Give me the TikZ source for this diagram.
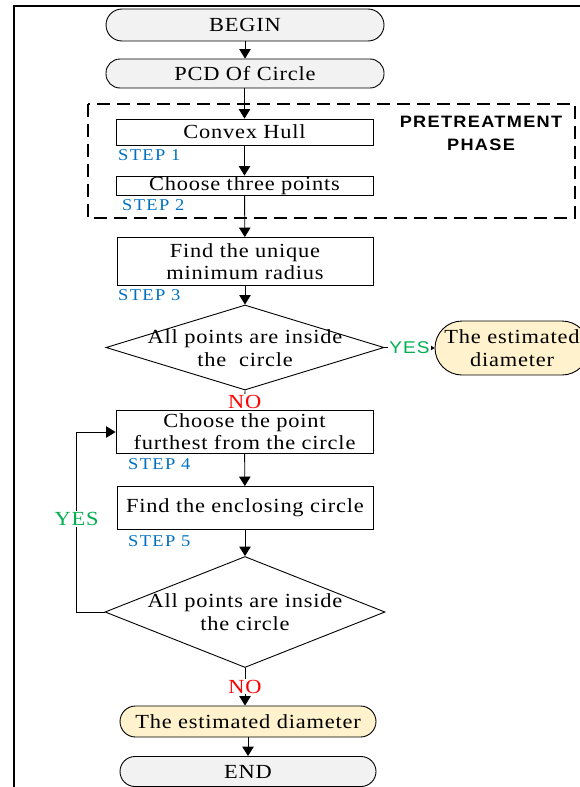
\documentclass[tikz,border=0pt]{standalone}
\usepackage{fontspec}
\setmainfont{Liberation Serif}[FakeStretch=1.12, LetterSpace=4]
\newfontfamily\stepfont{Liberation Serif}[FakeStretch=1.12, LetterSpace=8]
\newfontfamily\headfont{Liberation Sans}[FakeStretch=1.1, LetterSpace=8]
\newfontfamily\yesfont{Liberation Sans}[FakeStretch=1.12, LetterSpace=6]
\usetikzlibrary{shapes.geometric,arrows.meta}
\definecolor{stepblue}{RGB}{0,112,192}
\definecolor{yesgreen}{RGB}{0,176,80}
\definecolor{nored}{RGB}{255,0,0}
\definecolor{termgray}{RGB}{242,242,242}
\definecolor{resultfill}{RGB}{255,242,204}
\tikzset{
  base/.style={draw, line width=0.9pt, inner sep=0pt, align=center,
    font=\fontsize{20}{22}\selectfont},
  proc/.style={base, rectangle},
  term/.style={base, rectangle, fill=termgray},
  result/.style={base, rectangle, fill=resultfill},
  decision/.style={draw, line width=0.9pt, shape=diamond, inner sep=0pt},
  dtext/.style={inner sep=0pt, align=center, font=\fontsize{20}{22.5}\selectfont},
  steplabel/.style={anchor=west, inner sep=0pt, text=stepblue,
    font=\stepfont\fontsize{16.5}{19}\selectfont},
  flow/.style={line width=0.9pt, -{Triangle[length=9.5pt,width=11.5pt]}},
  smallflow/.style={line width=0.9pt, -{Triangle[length=4pt,width=5pt]}},
  nolabel/.style={fill=white, inner sep=1pt, text=nored,
    font=\fontsize{20}{22}\selectfont},
  yeslabel/.style={fill=white, inner sep=1pt, text=yesgreen,
    font=\fontsize{20}{22}\selectfont},
}
\begin{document}
\begin{tikzpicture}[x=1pt, y=-1pt]
\useasboundingbox (0,0) rectangle (579,787);

% page frame
\draw[line width=2pt] (14,790) -- (14,6) -- (582,6);

% pretreatment phase group
\draw[line width=1.3pt, dash pattern=on 13pt off 7pt] (88,104) rectangle (575,218);
\node[inner sep=0pt, align=center, font=\headfont\bfseries\fontsize{16.5}{23}\selectfont]
  (phase) at (481,133) {PRETREATMENT\\PHASE};

% main column
\node[term, minimum width=278pt, minimum height=32pt, rounded corners=16pt]
  (begin) at (245,25) {BEGIN};
\node[term, minimum width=278pt, minimum height=29pt, rounded corners=14pt]
  (pcd) at (245,73.5) {PCD Of Circle};
\node[proc, minimum width=257pt, minimum height=26pt] (hull) at (244.5,132) {Convex Hull};
\node[proc, minimum width=257pt, minimum height=19pt] (three) at (244.5,185.5) {Choose three points};
\node[proc, minimum width=256pt, minimum height=48pt] (radius) at (245,261.5)
  {Find the unique\\minimum radius};

\node[decision, minimum width=278pt, minimum height=85pt] (d1) at (245,347.5) {};
\node[dtext] (d1t) at (245,348) {All points are inside\\the\ \ circle};

\node[result, minimum width=154pt, minimum height=54pt, rounded corners=27pt,
  font=\fontsize{20}{22.5}\selectfont] (res1) at (512,348) {The estimated\\diameter};

\node[proc, minimum width=257pt, minimum height=43pt] (far) at (244.5,432)
  {Choose the point\\furthest from the circle};
\node[proc, minimum width=256pt, minimum height=43pt] (encl) at (245,508)
  {Find the enclosing circle};

\node[decision, minimum width=280pt, minimum height=111pt] (d2) at (245,612) {};
\node[dtext] (d2t) at (245,612) {All points are inside\\the circle};

\node[result, minimum width=256pt, minimum height=31pt, rounded corners=15.5pt]
  (res2) at (248,721.5) {The estimated diameter};
\node[term, minimum width=256pt, minimum height=30pt, rounded corners=15pt]
  (finish) at (248,771.5) {END};

% step labels
\node[steplabel] (s1) at (118,155) {STEP 1};
\node[steplabel] (s2) at (122,205) {STEP 2};
\node[steplabel] (s3) at (118,295) {STEP 3};
\node[steplabel] (s4) at (128,464) {STEP 4};
\node[steplabel] (s5) at (128,541) {STEP 5};

% connectors
\draw[flow] (begin) -- (pcd);
\draw[flow] (pcd.south -| hull.north) -- (hull.north);
\draw[flow] (hull) -- (three);
\draw[flow] (three) -- (radius);
\draw[flow] (radius) -- (d1.north);
\draw[flow] (d1.south) -- node[nolabel, pos=0.6] (no1) {NO} (far.north);
\draw[flow] (far) -- (encl);
\draw[flow] (encl) -- (d2.north);
\draw[flow] (d2.south) -- node[nolabel, pos=0.5] (no2) {NO} (d2.south |- res2.north);
\draw[flow] (res2) -- (finish);
\draw[smallflow] (d1.east) -- node[yeslabel, font=\yesfont\fontsize{17}{20}\selectfont, pos=0.5] (yes1) {YES} (res1.west);
\draw[flow] (d2.west) -- ++(-28,0) coordinate (loop) |- node[yeslabel, pos=0.258] (yes2) {YES} (far.west);

\end{tikzpicture}
\end{document}
